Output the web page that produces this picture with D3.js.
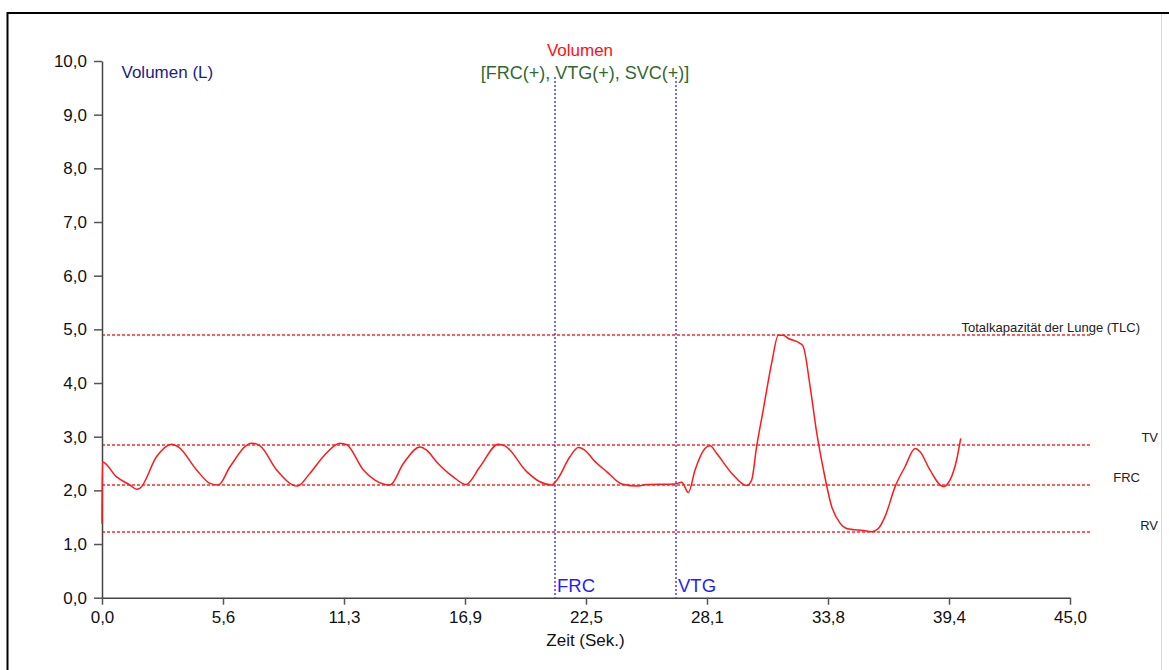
<!DOCTYPE html>
<html><head><meta charset="utf-8">
<script src="https://cdn.jsdelivr.net/npm/d3@7"></script>
<style>body{margin:0;background:#fff}svg{display:block}text{font-family:"Liberation Sans",Arial,sans-serif}</style>
</head><body><svg id="c" width="1169" height="670"></svg>
<script>
const timeSec = [0,0.02,0.68,1.30,1.61,1.77,2.54,3.24,3.55,4.40,5.02,5.41,5.95,6.96,7.35,8.12,9.08,9.67,10.29,11.06,11.38,12.15,12.69,13.39,14.01,14.78,15.09,15.56,16.33,16.92,17.57,18.42,18.73,19.74,20.36,20.90,21.14,21.76,22.14,22.53,22.84,23.46,24.16,24.93,25.32,26.64,26.95,27.26,27.57,28.03,28.27,28.57,29.27,29.97,30.20,30.43,30.74,31.13,31.44,31.67,31.91,32.45,32.60,32.92,33.23,33.54,33.92,34.31,34.62,35.40,35.78,36.09,36.40,36.87,37.33,37.80,38.03,38.49,39.11,39.42,39.73,39.92];
const volumeL = [1.38,2.53,2.25,2.10,2.02,2.04,2.63,2.86,2.81,2.38,2.13,2.10,2.44,2.88,2.83,2.38,2.08,2.32,2.63,2.88,2.85,2.38,2.19,2.10,2.50,2.81,2.75,2.53,2.25,2.11,2.44,2.86,2.83,2.35,2.16,2.10,2.19,2.63,2.80,2.72,2.57,2.35,2.12,2.08,2.11,2.12,2.15,1.96,2.38,2.78,2.83,2.69,2.32,2.09,2.19,2.81,3.50,4.37,4.89,4.89,4.83,4.74,4.68,3.93,3.06,2.38,1.70,1.39,1.29,1.25,1.23,1.29,1.51,2.07,2.44,2.78,2.72,2.38,2.07,2.19,2.57,2.97];
const refLabels = ["Totalkapazität der Lunge (TLC)","TV","FRC","RV"];
const refValues = [4.89,2.85,2.10,1.22];
const markerLabels = ["FRC","VTG"];
const markerTimes = [21.06,26.68];
const xTicks = [0,5.625,11.25,16.875,22.5,28.125,33.75,39.375,45];
const xTickLabels = ["0,0","5,6","11,3","16,9","22,5","28,1","33,8","39,4","45,0"];
const yTicks = [0,1,2,3,4,5,6,7,8,9,10];
const yTickLabels = ["0,0","1,0","2,0","3,0","4,0","5,0","6,0","7,0","8,0","9,0","10,0"];

const svg = d3.select("#c");
const x = d3.scaleLinear().domain([0,45]).range([102,1070]);
const y = d3.scaleLinear().domain([0,10]).range([597.7,61]);

// frame
svg.append("line").attr("x1",7.5).attr("x2",1169).attr("y1",13).attr("y2",13).attr("stroke","#000").attr("stroke-width",2);
svg.append("line").attr("x1",7.5).attr("x2",7.5).attr("y1",12).attr("y2",670).attr("stroke","#000").attr("stroke-width",2);
svg.append("line").attr("x1",1161.5).attr("x2",1161.5).attr("y1",14).attr("y2",670).attr("stroke","#d8d8d8").attr("stroke-width",1);

// reference lines
refValues.forEach((v,i)=>{
  const yy = Math.round(y(v));
  svg.append("line").attr("x1",x(0)).attr("x2",1090).attr("y1",yy).attr("y2",yy)
    .attr("stroke","#ff2a2a").attr("stroke-width",1.3).attr("stroke-dasharray","3,2");
});
const labelX = [1140,1158,1140,1158];
const labelBase = [331.5,441.5,481.5,530];
refLabels.forEach((t,i)=>{
  svg.append("text").attr("x",labelX[i]).attr("y",labelBase[i]).attr("text-anchor","end")
    .attr("font-size",13).attr("fill","#222").text(t);
});

// marker lines
markerTimes.forEach((t,i)=>{
  const xx = Math.round(x(t));
  svg.append("line").attr("x1",xx).attr("x2",xx).attr("y1",77).attr("y2",y(0))
    .attr("stroke","#2020ff").attr("stroke-width",1.3).attr("stroke-dasharray","2,2");
  svg.append("text").attr("x",xx+2).attr("y",591.7).attr("font-size",18.5).attr("fill","#1f1fff").text(markerLabels[i]);
});

// axes
const yAxis = d3.axisLeft(y).tickValues(yTicks).tickFormat((d,i)=>yTickLabels[i]).tickSize(8).tickPadding(7).tickSizeOuter(0);
const gy = svg.append("g").attr("transform","translate(102,0)").call(yAxis);
const xAxis = d3.axisBottom(x).tickValues(xTicks).tickFormat((d,i)=>xTickLabels[i]).tickSize(7).tickPadding(6).tickSizeOuter(0);
const gx = svg.append("g").attr("transform","translate(0,597.7)").call(xAxis);
[gx,gy].forEach(g=>{
  g.attr("font-size",17).attr("font-family","'Liberation Sans',Arial,sans-serif");
  g.selectAll("path").attr("stroke","#444").attr("stroke-width",1.5);
  g.selectAll("line").attr("stroke","#555").attr("stroke-width",1.5);
  g.selectAll("text").attr("font-size",17).attr("fill","#111");
});

// curve
const pts = timeSec.map((t,i)=>[t,volumeL[i]]);
const lineGen = d3.line().x(d=>x(d[0])).y(d=>y(d[1])).curve(d3.curveMonotoneX);
svg.append("path").attr("d",lineGen(pts)).attr("fill","none").attr("stroke","#ff1a1a").attr("stroke-width",1.5);

// titles
svg.append("text").attr("x",121.5).attr("y",78).attr("font-size",17).attr("fill","#1c1c86").text("Volumen (L)");
svg.append("text").attr("x",580).attr("y",55.5).attr("text-anchor","middle").attr("font-size",17).attr("fill","#ff1010").text("Volumen");
svg.append("text").attr("x",585).attr("y",79).attr("text-anchor","middle").attr("font-size",18).attr("fill","#2f6a2f").text("[FRC(+), VTG(+), SVC(+)]");
svg.append("text").attr("x",585.5).attr("y",646).attr("text-anchor","middle").attr("font-size",17).attr("fill","#111").text("Zeit (Sek.)");
</script></body></html>
